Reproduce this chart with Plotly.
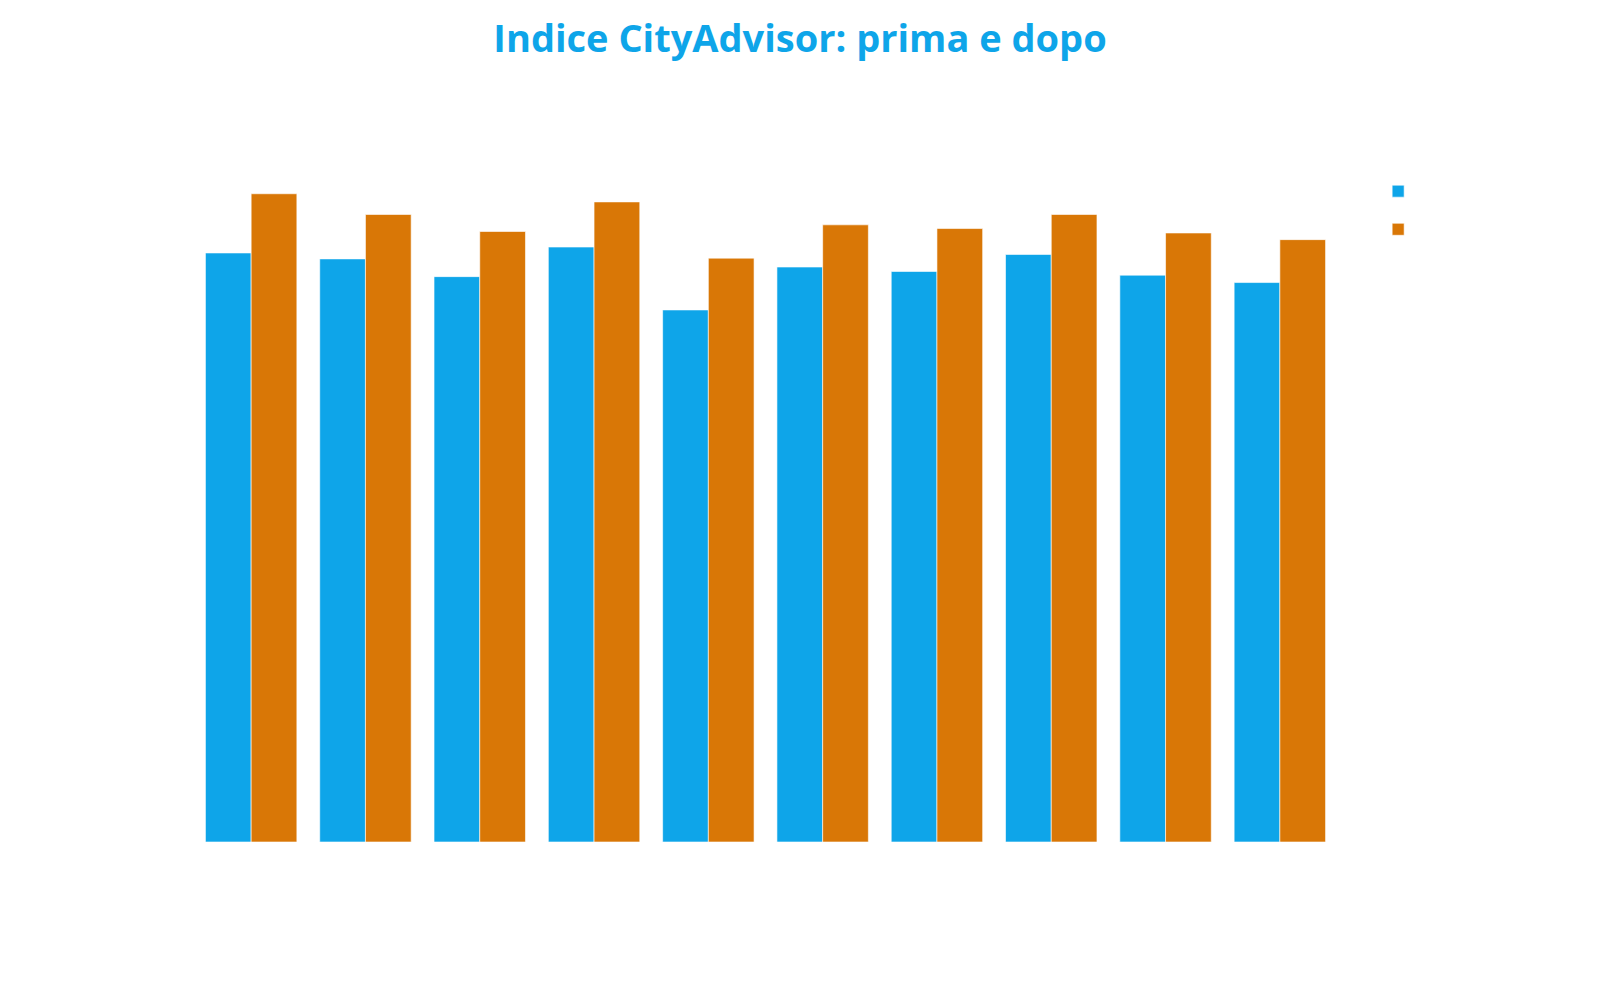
import plotly.graph_objects as go

# Dati (indice CityAdvisor, prima e dopo)
cities = ["Roma", "Milano", "Napoli", "Torino", "Palermo",
          "Genova", "Bologna", "Firenze", "Bari", "Venezia"]
before = [79.6, 78.8, 76.4, 80.4, 71.9, 77.7, 77.1, 79.4, 76.6, 75.6]
after = [87.6, 84.8, 82.5, 86.5, 78.9, 83.4, 82.9, 84.8, 82.3, 81.4]

BLUE = "#0EA5E9"
ORANGE = "#D97706"

fig = go.Figure()
fig.add_trace(go.Bar(
    x=cities, y=before, name="Prima",
    marker=dict(color=BLUE, line=dict(color="rgba(255,255,255,0.6)", width=1)),
))
fig.add_trace(go.Bar(
    x=cities, y=after, name="Dopo",
    marker=dict(color=ORANGE, line=dict(color="rgba(255,255,255,0.6)", width=1)),
))

fig.update_layout(
    title=dict(
        text="<b>Indice CityAdvisor: prima e dopo</b>",
        x=0.495, xanchor="center", y=0.983,
        font=dict(family="Open Sans", size=38, color=BLUE),
    ),
    barmode="group",
    bargap=0.2,
    bargroupgap=0,
    plot_bgcolor="white",
    paper_bgcolor="white",
    margin=dict(l=186, r=271, t=94, b=166),
    xaxis=dict(showticklabels=False, showgrid=False, zeroline=False, showline=False),
    yaxis=dict(range=[0, 100], showticklabels=False, showgrid=False,
               zeroline=False, showline=False),
    legend=dict(
        x=1.036, y=0.912, xanchor="left", yanchor="top",
        font=dict(size=27, color="rgba(0,0,0,0)"),
        bgcolor="rgba(0,0,0,0)",
    ),
    width=1600, height=1000,
)

fig.write_html("out.html")
